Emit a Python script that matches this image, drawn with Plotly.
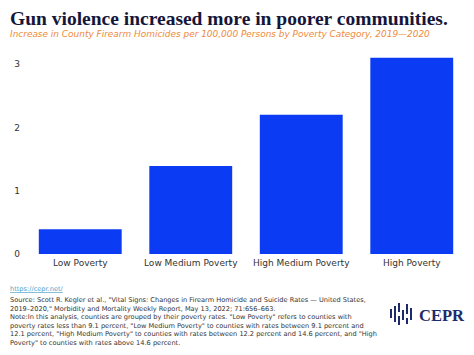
import plotly.graph_objects as go

categories = ["Low Poverty", "Low Medium Poverty", "High Medium Poverty", "High Poverty"]
values = [0.39, 1.39, 2.20, 3.10]
y_ticks = [0, 1, 2, 3]

title = "Gun violence increased more in poorer communities."
subtitle = "Increase in County Firearm Homicides per 100,000 Persons by Poverty Category, 2019\u20142020"
link = "https://cepr.net/"
footer_lines = [
    "Source: Scott R. Kegler et al., \"Vital Signs: Changes in Firearm Homicide and Suicide Rates \u2014 United States,",
    "2019\u20132020,\" Morbidity and Mortality Weekly Report, May 13, 2022; 71:656\u2013663.",
    "Note:In this analysis, counties are grouped by their poverty rates. \"Low Poverty\" refers to counties with",
    "poverty rates less than 9.1 percent, \"Low Medium Poverty\" to counties with rates between 9.1 percent and",
    "12.1 percent, \"High Medium Poverty\" to counties with rates between 12.2 percent and 14.6 percent, and \"High",
    "Poverty\" to counties with rates above 14.6 percent.",
]

W, H = 474, 355
L, R, T, B = 25, 7, 51, 101
PW, PH = W - L - R, H - T - B


def px(x):
    return (x - L) / PW


def py(y):
    return (H - B - y) / PH


fig = go.Figure()
fig.add_trace(go.Bar(x=categories, y=values, marker=dict(color="#0b3cf4", line=dict(width=0)),
                     hoverinfo="x+y"))

annotations = [
    dict(text="<b>" + title + "</b>", x=px(8), y=py(19), xanchor="left", yanchor="middle",
         font=dict(family="Liberation Serif", size=19.5, color="#15163a")),
    dict(text="<i>" + subtitle + "</i>", x=px(8), y=py(34), xanchor="left", yanchor="middle",
         font=dict(family="DejaVu Sans", size=8.95, color="#ee8a3c")),
    dict(text="<span style='text-decoration:underline'>" + link + "</span>", x=px(8), y=py(289),
         xanchor="left", yanchor="middle", font=dict(family="DejaVu Sans", size=6.6, color="#4a9fc9")),
    dict(text="<br>".join(footer_lines), x=px(8), y=py(294), xanchor="left", yanchor="top", align="left",
         font=dict(family="DejaVu Sans", size=6.6, color="#333333")),
    dict(text="<b>CEPR</b>", x=px(417), y=py(315), xanchor="left", yanchor="middle",
         font=dict(family="Liberation Serif", size=16.5, color="#1d2b6b")),
]
for a in annotations:
    a.update(xref="paper", yref="paper", showarrow=False)

# CEPR logo icon (decorative)
shapes = []
logo_bars = [
    (391, 309, 318), (395, 306, 322), (399, 303, 312), (399, 316, 325),
    (403, 310, 320), (407, 304, 314), (407, 318, 324), (411, 308, 320),
]
for x0, y0, y1 in logo_bars:
    shapes.append(dict(type="line", xref="paper", yref="paper", x0=px(x0), x1=px(x0),
                       y0=py(y0), y1=py(y1), line=dict(color="#1d2b6b", width=2)))

fig.update_layout(
    width=W, height=H,
    margin=dict(l=L, r=R, t=T, b=B, pad=0),
    paper_bgcolor="white", plot_bgcolor="white",
    bargap=0.25,
    showlegend=False,
    annotations=annotations,
    shapes=shapes,
    xaxis=dict(showgrid=False, showline=False, zeroline=False, ticks="", ticklabelstandoff=2,
               tickfont=dict(family="DejaVu Sans", size=9, color="#333333")),
    yaxis=dict(range=[0, PH / 63.3], tickvals=y_ticks, showgrid=False, showline=False, zeroline=False,
               ticks="", ticklabelstandoff=4,
               tickfont=dict(family="DejaVu Sans", size=9, color="#333333")),
)

fig.write_html("out.html", config={"displayModeBar": False},
               post_script="document.body.style.margin='0';document.body.style.overflow='hidden';")
